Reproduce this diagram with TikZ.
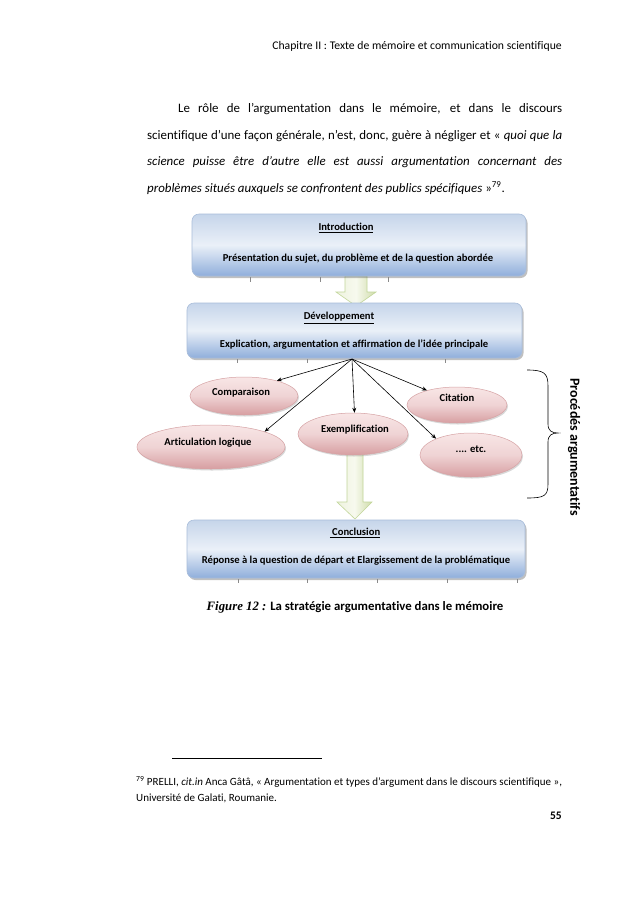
\documentclass[tikz,border=0pt]{standalone}
\usepackage{fontspec}
\setmainfont{Carlito}[Ligatures=NoCommon]
\newfontfamily\timesfont{Liberation Serif}
\usetikzlibrary{shapes.geometric,shadows,arrows.meta}
\definecolor{boxedge}{HTML}{A9BDDA}
\definecolor{boxtop}{HTML}{C6D5EA}
\definecolor{boxmid}{HTML}{EAF0F8}
\definecolor{boxbot}{HTML}{8FAEDB}
\definecolor{elledge}{HTML}{D6A3A5}
\definecolor{elltop}{HTML}{F8E6E6}
\definecolor{ellmid}{HTML}{EFD3D4}
\definecolor{ellbot}{HTML}{D79EA1}
\definecolor{arredge}{HTML}{C2D69A}
\definecolor{arrL}{HTML}{EEF3DF}
\definecolor{arrM}{HTML}{F7F9EE}
\definecolor{arrR}{HTML}{CFDCAA}
\definecolor{tickgray}{HTML}{8A8A8A}
\newcommand{\bodyfont}{\fontsize{12.9}{15}\selectfont}
\newcommand{\diagfont}{\fontsize{10.6}{12}\selectfont\bfseries}
\begin{document}
\begin{tikzpicture}[x=1pt,y=-1pt,
  blockbox/.style={draw=boxedge, line width=0.6pt, rounded corners=7pt,
    top color=boxtop, bottom color=boxbot, middle color=boxmid,
    inner sep=0pt, drop shadow={shadow xshift=1.5pt, shadow yshift=-2pt, opacity=.35, fill=black!70}},
  ell/.style={ellipse, draw=elledge, line width=0.5pt,
    top color=elltop, bottom color=ellbot, middle color=ellmid,
    inner sep=0pt, drop shadow={shadow xshift=1pt, shadow yshift=-1.5pt, opacity=.25, fill=black!60}},
  blockarrow/.style={draw=arredge, line width=0.6pt, left color=arrL, right color=arrR, middle color=arrM},
  diag/.style={font=\diagfont, inner sep=0pt},
  body/.style={font=\bodyfont, inner sep=0pt, anchor=base west},
  conn/.style={line width=0.6pt, -{Stealth[length=5pt,width=4pt]}},
  tickmark/.style={tickgray, line width=0.4pt}
]
\useasboundingbox[fill=white] (0,0) rectangle (638,903);

% header
\node[font=\fontsize{11.7}{13}\selectfont, inner sep=0pt, anchor=base east] (header) at (562,49)
  {Chapitre II : Texte de mémoire et communication scientifique};

% paragraph
\node[body] (p1) at (178,112) {\makebox[384pt][s]{Le rôle de l’argumentation dans le mémoire, et dans le discours}};
\node[body] (p2) at (147,139) {\makebox[415pt][s]{scientifique d’une façon générale, n’est, donc, guère à négliger et « \textit{quoi que la}}};
\node[body] (p3) at (147,165) {\itshape\makebox[415pt][s]{science puisse être d’autre elle est aussi argumentation concernant des}};
\node[body] (p4) at (147,192) {\textit{problèmes situés auxquels se confrontent des publics spécifiques} »\textsuperscript{79}.};

% block arrows
\draw[blockarrow] (345,276) -- (367,276) -- (367,292) -- (376,292) -- (356,306) -- (336,292) -- (345,292) -- cycle;
\draw[blockarrow] (347,452) -- (363,452) -- (363,502) -- (372,502) -- (355,519) -- (337,502) -- (347,502) -- cycle;

% boxes
\node[blockbox, minimum width=334pt, minimum height=62pt] (intro) at (359,245) {};
\node[diag] (introT) at (346,228) {\underline{Introduction}};
\node[diag] (introS) at (358,259) {Présentation du sujet, du problème et de la question abordée};
\foreach \x in {250,320,388} \draw[tickmark] (\x,277) -- (\x,282);

\node[blockbox, minimum width=335pt, minimum height=55pt] (dev) at (354.5,330.5) {};
\node[diag] (devT) at (339,318) {\underline{Développement}};
\node[diag] (devS) at (354,345) {Explication, argumentation et affirmation de l’idée principale};
\foreach \x in {237,307,445} \draw[tickmark] (\x,359) -- (\x,363);

\node[blockbox, minimum width=338pt, minimum height=58pt] (concl) at (356,549) {};
\node[diag] (conclT) at (355,533) {\underline{ Conclusion}};
\node[diag] (conclS) at (356,561) {Réponse à la question de départ et Elargissement de la problématique};
\foreach \x in {238,307,377,447,517} \draw[tickmark] (\x,579) -- (\x,583);

% ellipses
\node[ell, minimum width=108pt, minimum height=38pt] (comp) at (244,396) {};
\node[diag] (compT) at (241,393) {Comparaison};
\node[ell, minimum width=148pt, minimum height=44pt] (art) at (211,447) {};
\node[diag] (artT) at (208,443) {Articulation logique};
\node[ell, minimum width=110pt, minimum height=42pt] (exe) at (353,434) {};
\node[diag] (exeT) at (355,430) {Exemplification};
\node[ell, minimum width=100pt, minimum height=36pt] (cit) at (457,405) {};
\node[diag] (citT) at (457,398) {Citation};
\node[ell, minimum width=102pt, minimum height=44pt] (etc) at (471,455) {};
\node[diag] (etcT) at (471,449) {.... etc.};

% connectors
\coordinate (src) at (352,359);
\draw[conn] (src) -- (comp.25);
\draw[conn] (src) -- (art.16);
\draw[conn] (src) -- (exe.86);
\draw[conn] (src) -- (cit.154);
\draw[conn] (src) -- (etc.155);

% brace
\draw[line width=0.6pt] (527,370) .. controls (544,370) and (548,373) .. (548,386) -- (548,424)
  .. controls (548,431) and (552,433) .. (558,433)
  .. controls (552,433) and (548,435) .. (548,442) -- (548,484)
  .. controls (548,496) and (544,498) .. (527,498);
\node[font=\fontsize{14}{16}\selectfont\bfseries, inner sep=0pt, rotate=-90] (proc) at (574,447) {Procédés argumentatifs};

% caption
\node[inner sep=0pt, font=\fontsize{12.8}{15}\selectfont] (cap) at (355,607)
  {{\timesfont\bfseries\itshape Figure 12 :} \bfseries La stratégie argumentative dans le mémoire};

% footnote
\draw[line width=0.6pt] (172,758) -- (322,758);
\node[body, font=\fontsize{11}{13}\selectfont] (fn1) at (136,785)
  {\textsuperscript{79} PRELLI, \textit{cit.in} Anca Gâtâ, « Argumentation et types d’argument dans le discours scientifique »,};
\node[body, font=\fontsize{11}{13}\selectfont] (fn2) at (136,801) {Université de Galati, Roumanie.};
\node[font=\fontsize{11.5}{13}\selectfont\bfseries, inner sep=0pt, anchor=base east] (page) at (562,819) {55};
\end{tikzpicture}
\end{document}
